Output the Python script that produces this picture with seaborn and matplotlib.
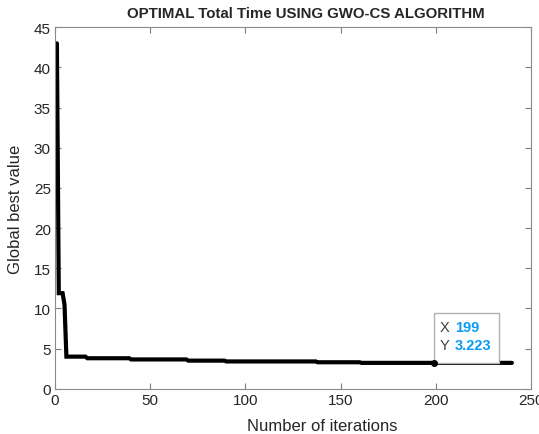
import matplotlib
matplotlib.use("Agg")
import matplotlib.pyplot as plt
import numpy as np
import pandas as pd
import seaborn as sns

# convergence curve (breakpoints of the best-so-far value)
iters = [1, 2, 4, 5, 6, 16, 17, 39, 40, 69, 70, 89, 90, 137, 138, 160, 161, 240]
best = [43.0, 11.9, 11.9, 10.5, 4.0, 4.0, 3.8, 3.8, 3.65, 3.65, 3.5, 3.5,
        3.4, 3.4, 3.3, 3.3, 3.223, 3.223]
tip_x, tip_y = 199, 3.223

x_ticks = [0, 50, 100, 150, 200, 250]
y_ticks = [0, 5, 10, 15, 20, 25, 30, 35, 40, 45]

sns.set_theme(style="white")
plt.rcParams['font.family'] = ['Liberation Sans', 'DejaVu Sans']
plt.rcParams['text.color'] = '#262626'

df = pd.DataFrame({'iter': iters, 'best': best})

fig = plt.figure(figsize=(5.39, 4.35), dpi=100)
ax = fig.add_axes([0.102, 0.104, 0.883, 0.831])

sns.lineplot(data=df, x='iter', y='best', ax=ax, color='black', linewidth=3,
             solid_joinstyle='miter')

ax.set_xlim(0, 250)
ax.set_ylim(0, 45)
ax.set_xticks(x_ticks)
ax.set_yticks(y_ticks)
ax.tick_params(direction='in', length=4, width=0.8, colors='#7f7f7f',
               labelcolor='#262626', labelsize=11, top=True, right=True,
               bottom=True, left=True, pad=3)
for s in ax.spines.values():
    s.set_color('#8a8a8a')
    s.set_linewidth(0.8)

ax.set_xlabel('Number of iterations', fontsize=12)
ax.xaxis.set_label_coords(0.562, -0.08)
ax.set_ylabel('Global best value', fontsize=12)
ax.yaxis.set_label_coords(-0.068, 0.5)
ax.set_title('OPTIMAL Total Time USING GWO-CS ALGORITHM', fontsize=10.8,
             fontweight='bold', x=0.527, y=1.005)

# data tip
ax.add_patch(plt.Rectangle((tip_x, tip_y), 34.3, 6.15, facecolor='white',
                           edgecolor='#b0b0b0', linewidth=1, zorder=4))
ax.plot([tip_x], [tip_y], 'o', color='black', markersize=4, zorder=5)
ax.text(202.2, 7.66, 'X', fontsize=10.5, color='#404040', va='center', zorder=6)
ax.text(202.2, 5.5, 'Y', fontsize=10.5, color='#404040', va='center', zorder=6)
ax.text(210.1, 7.66, str(tip_x), fontsize=10.5, color='#0a9bf5',
        fontweight='bold', va='center', zorder=6)
ax.text(210.1, 5.5, f'{tip_y:.3f}', fontsize=10.5, color='#0a9bf5',
        fontweight='bold', va='center', zorder=6)

fig.savefig('out.png', dpi=100)
